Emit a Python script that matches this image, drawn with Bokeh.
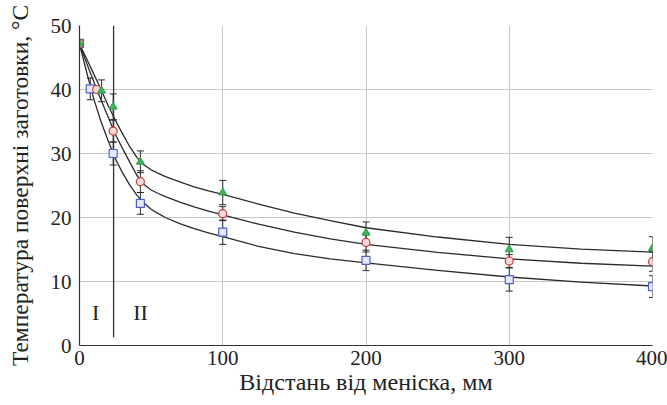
from bokeh.plotting import figure
from bokeh.models import (ColumnDataSource, Whisker, TeeHead, Range1d,
                          FixedTicker, Label)
from bokeh.embed import file_html
from bokeh.resources import INLINE

# Distance from meniscus, mm, and measured surface temperature, deg C
x_blue = [0, 7.5, 23.5, 42.5, 100, 200, 300, 400]
t_blue = [47.2, 40.1, 30.0, 22.2, 17.7, 13.3, 10.3, 9.2]
e_blue = [0, 1.7, 1.8, 1.7, 1.9, 1.6, 1.8, 1.7]

x_red = [0, 12, 23.5, 42.5, 100, 200, 300, 400]
t_red = [47.2, 40.0, 33.5, 25.6, 20.6, 16.1, 13.2, 13.1]
e_red = [0, 0, 1.7, 1.7, 1.1, 1.5, 1.0, 1.5]

x_green = [0, 15.4, 23.5, 42.5, 100, 200, 300, 400]
t_green = [47.2, 39.8, 37.3, 28.7, 23.9, 17.6, 15.0, 15.2]
e_green = [0, 1.7, 2.0, 1.7, 1.9, 1.7, 1.9, 1.8]

# Calculated temperature curves
x_calc = [0, 5, 10, 15, 20, 25, 30, 35, 40, 45, 50, 55, 60, 70, 80, 90,
          100, 125, 150, 175, 200, 250, 300, 350, 400]
c_blue = [47.1, 42.7, 38.5, 35.0, 32.0, 29.2, 27.0, 25.1, 23.5, 22.25, 21.3,
          20.6, 20.0, 19.05, 18.25, 17.6, 17.0, 15.5, 14.35, 13.55, 12.9,
          11.75, 10.7, 9.9, 9.3]
c_red = [47.1, 44.1, 41.2, 38.4, 35.7, 33.0, 30.8, 28.7, 26.6, 25.15, 24.3,
         23.75, 23.25, 22.4, 21.65, 21.0, 20.4, 18.95, 17.7, 16.65, 15.8,
         14.55, 13.55, 12.85, 12.4]
c_green = [47.1, 44.8, 42.4, 40.0, 37.5, 35.2, 33.1, 31.1, 29.4, 28.2, 27.45,
           26.9, 26.4, 25.55, 24.8, 24.15, 23.6, 22.1, 20.7, 19.5, 18.4,
           16.95, 15.8, 15.05, 14.6]

zone_border = 23.8
zone_labels = ["I", "II"]
zone_label_x = [11.2, 42.6]

x_ticks = [0, 100, 200, 300, 400]
y_ticks = [0, 10, 20, 30, 40, 50]

x_title = "Відстань від меніска, мм"
y_title = "Температура поверхні заготовки, °C"

SERIF = "Liberation Serif"

p = figure(width=667, height=405, output_backend="svg", toolbar_location=None,
           x_range=Range1d(0, 400), y_range=Range1d(0, 50),
           min_border_left=79, min_border_right=15, min_border_top=25,
           min_border_bottom=60)
p.outline_line_color = None
p.background_fill_color = "white"

p.axis.major_label_text_font = SERIF
p.axis.major_label_text_font_size = "21px"
p.axis.major_label_text_color = "#222222"
p.axis.axis_label_text_font = SERIF
p.axis.axis_label_text_font_style = "normal"
p.axis.axis_label_text_color = "#222222"
p.axis.axis_line_color = "#333333"
p.axis.axis_line_width = 1.2
p.axis.major_tick_line_color = None
p.axis.minor_tick_line_color = None
p.axis.major_tick_out = 0
p.axis.major_tick_in = 0

p.xaxis.ticker = FixedTicker(ticks=x_ticks)
p.yaxis.ticker = FixedTicker(ticks=y_ticks)
p.xaxis.axis_label = x_title
p.yaxis.axis_label = y_title
p.xaxis.axis_label_text_font_size = "24px"
p.yaxis.axis_label_text_font_size = "23.5px"
p.xaxis.major_label_standoff = 5
p.xaxis.axis_label_standoff = 1
p.yaxis.major_label_standoff = 8
p.yaxis.axis_label_standoff = 15

p.xgrid.grid_line_color = "#c8c8c8"
p.ygrid.grid_line_color = "#c8c8c8"
p.xgrid.grid_line_width = 1
p.ygrid.grid_line_width = 1

# Boundary between zones I and II
p.segment(x0=[zone_border], y0=[1.3], x1=[zone_border], y1=[50],
          line_color="#333333", line_width=1.3)
for lab, lx in zip(zone_labels, zone_label_x):
    p.add_layout(Label(x=lx, y=5.2, text=lab, text_font=SERIF,
                       text_font_size="22px", text_color="#222222",
                       text_align="center", text_baseline="middle"))

# Calculated curves
for cy in (c_green, c_red, c_blue):
    p.line(x_calc, cy, line_color="#2b2b2b", line_width=1.3,
           line_join="round")

# Error bars
for xs, ts, es in ((x_blue, t_blue, e_blue), (x_red, t_red, e_red),
                   (x_green, t_green, e_green)):
    xs_e = [x for x, e in zip(xs, es) if e > 0]
    up = [t + e for t, e in zip(ts, es) if e > 0]
    lo = [t - e for t, e in zip(ts, es) if e > 0]
    src = ColumnDataSource(dict(x=xs_e, upper=up, lower=lo))
    w = Whisker(source=src, base="x", upper="upper", lower="lower",
                line_color="#2b2b2b", line_width=1,
                upper_head=TeeHead(size=7, line_color="#2b2b2b", line_width=1),
                lower_head=TeeHead(size=7, line_color="#2b2b2b", line_width=1))
    p.add_layout(w)

# Measured points
p.scatter(x_blue, t_blue, marker="square", size=8, line_color="#4d5fc9",
          fill_color="#e6e9f8", line_width=1.2)
p.scatter(x_red, t_red, marker="circle", size=8, line_color="#cc3b3b",
          fill_color="#f5dada", line_width=1.2)
p.scatter(x_green, t_green, marker="triangle", size=8, line_color="#2e9e4a",
          fill_color="#3db35a", line_width=1)

open("out.html", "w").write(file_html(p, INLINE))
